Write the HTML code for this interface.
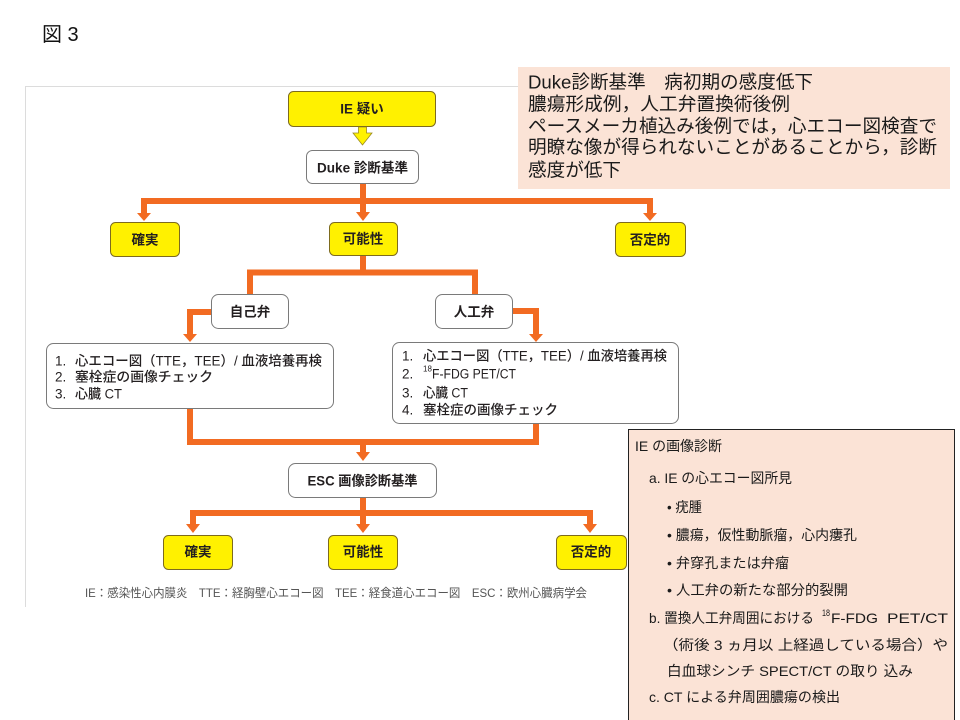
<!DOCTYPE html>
<html>
<head>
<meta charset="utf-8">
<style>
  html,body{margin:0;padding:0;background:#fff;}
  body{width:960px;height:720px;overflow:hidden;}
  svg{display:block;}
  text{font-family:"Liberation Sans","Noto Sans CJK JP",sans-serif;}
  .lbl{font-size:13.5px;font-weight:bold;fill:#231f20;}
  .lst{font-size:13.5px;font-weight:500;fill:#231f20;}
  .pk{font-size:18.6px;fill:#1a1a1a;}
  .rb{font-size:14px;fill:#1a1a1a;}
</style>
</head>
<body>
<svg width="960" height="720" viewBox="0 0 960 720" xmlns="http://www.w3.org/2000/svg">
  <!-- title -->
  <text x="42" y="41" font-size="20" fill="#111">図 3</text>

  <!-- figure frame -->
  <line x1="25" y1="86.5" x2="640" y2="86.5" stroke="#dcdcdc" stroke-width="1"/>
  <line x1="25.5" y1="86" x2="25.5" y2="607" stroke="#dcdcdc" stroke-width="1"/>

  <!-- orange connectors -->
  <g fill="none" stroke="#F26B22" stroke-width="6" stroke-linejoin="miter">
    <line x1="363" y1="184" x2="363" y2="213"/>
    <polyline points="144,214 144,201 650,201 650,214"/>
    <line x1="363" y1="256" x2="363" y2="273"/>
    <polyline points="250,294 250,272.5 475,272.5 475,294"/>
    <polyline points="211,312 190,312 190,335"/>
    <polyline points="513,311 536,311 536,335"/>
    <polyline points="190,409 190,442 536,442 536,424"/>
    <line x1="363" y1="442" x2="363" y2="453"/>
    <line x1="363" y1="498" x2="363" y2="525"/>
    <polyline points="193,525 193,513 590,513 590,525"/>
  </g>
  <g fill="#F26B22">
    <polygon points="137,213 151,213 144,221"/>
    <polygon points="356,212 370,212 363,221"/>
    <polygon points="643,213 657,213 650,221"/>
    <polygon points="183,334 197,334 190,342"/>
    <polygon points="529,334 543,334 536,342"/>
    <polygon points="356,452 370,452 363,461"/>
    <polygon points="186,524 200,524 193,533"/>
    <polygon points="356,524 370,524 363,533"/>
    <polygon points="583,524 597,524 590,533"/>
  </g>

  <!-- yellow hollow arrow -->
  <polygon points="358.5,127 366.5,127 366.5,133 372,133 362.5,145 353,133 358.5,133" fill="#FFF200" stroke="#9a8a20" stroke-width="0.8"/>

  <!-- yellow boxes -->
  <g fill="#FFF100" stroke="#7d6b1e" stroke-width="1">
    <rect x="288.5" y="91.5" width="147" height="35" rx="5"/>
    <rect x="110.5" y="222.5" width="69" height="34" rx="5"/>
    <rect x="329.5" y="222.5" width="68" height="33" rx="5"/>
    <rect x="615.5" y="222.5" width="70" height="34" rx="5"/>
    <rect x="163.5" y="535.5" width="69" height="34" rx="5"/>
    <rect x="328.5" y="535.5" width="69" height="34" rx="5"/>
    <rect x="556.5" y="535.5" width="70" height="34" rx="5"/>
  </g>
  <!-- white boxes -->
  <g fill="#fff" stroke="#7a7a7a" stroke-width="1">
    <rect x="306.5" y="150.5" width="112" height="33" rx="6"/>
    <rect x="211.5" y="294.5" width="77" height="34" rx="7"/>
    <rect x="435.5" y="294.5" width="77" height="34" rx="7"/>
    <rect x="46.5" y="343.5" width="287" height="65" rx="7"/>
    <rect x="392.5" y="342.5" width="286" height="81" rx="7"/>
    <rect x="288.5" y="463.5" width="148" height="34" rx="7"/>
  </g>

  <!-- box labels -->
  <g class="lbl" text-anchor="middle" dominant-baseline="central">
    <text x="362" y="109">IE 疑い</text>
    <text x="362.5" y="168" textLength="91" lengthAdjust="spacingAndGlyphs">Duke 診断基準</text>
    <text x="145" y="240">確実</text>
    <text x="363" y="239">可能性</text>
    <text x="650" y="240">否定的</text>
    <text x="250" y="312">自己弁</text>
    <text x="474" y="312">人工弁</text>
    <text x="362.5" y="481" textLength="110" lengthAdjust="spacingAndGlyphs">ESC 画像診断基準</text>
    <text x="198" y="552">確実</text>
    <text x="363" y="552">可能性</text>
    <text x="591" y="552">否定的</text>
  </g>

  <!-- left list -->
  <g class="lst" dominant-baseline="central">
    <text x="55" y="361">1.</text>
    <text x="75" y="361" textLength="247" lengthAdjust="spacingAndGlyphs">心エコー図（TTE，TEE）/ 血液培養再検</text>
    <text x="55" y="377">2.</text>
    <text x="75" y="377" textLength="138" lengthAdjust="spacingAndGlyphs">塞栓症の画像チェック</text>
    <text x="55" y="394">3.</text>
    <text x="75" y="394" textLength="47" lengthAdjust="spacingAndGlyphs">心臓 CT</text>
  </g>
  <!-- right list -->
  <g class="lst" dominant-baseline="central">
    <text x="402" y="356">1.</text>
    <text x="423" y="356" textLength="244" lengthAdjust="spacingAndGlyphs">心エコー図（TTE，TEE）/ 血液培養再検</text>
    <text x="402" y="374">2.</text>
    <text x="423" y="369" font-size="8">18</text>
    <text x="432" y="374" textLength="84" lengthAdjust="spacingAndGlyphs">F-FDG PET/CT</text>
    <text x="402" y="393">3.</text>
    <text x="423" y="393" textLength="45" lengthAdjust="spacingAndGlyphs">心臓 CT</text>
    <text x="402" y="410">4.</text>
    <text x="423" y="410" textLength="135" lengthAdjust="spacingAndGlyphs">塞栓症の画像チェック</text>
  </g>

  <!-- footer -->
  <text x="85" y="593" font-size="12" fill="#555" dominant-baseline="central" textLength="502" lengthAdjust="spacingAndGlyphs">IE：感染性心内膜炎　TTE：経胸壁心エコー図　TEE：経食道心エコー図　ESC：欧州心臓病学会</text>

  <!-- top peach note -->
  <rect x="518" y="67" width="432" height="122" fill="#FBE3D6"/>
  <g class="pk" dominant-baseline="central">
    <text x="528" y="82" textLength="285" lengthAdjust="spacingAndGlyphs">Duke診断基準　病初期の感度低下</text>
    <text x="528" y="104" textLength="262" lengthAdjust="spacingAndGlyphs">膿瘍形成例，人工弁置換術後例</text>
    <text x="528" y="126" textLength="409" lengthAdjust="spacingAndGlyphs">ペースメーカ植込み後例では，心エコー図検査で</text>
    <text x="528" y="147" textLength="409" lengthAdjust="spacingAndGlyphs">明瞭な像が得られないことがあることから，診断</text>
    <text x="528" y="170" textLength="93" lengthAdjust="spacingAndGlyphs">感度が低下</text>
  </g>

  <!-- bottom-right peach box -->
  <rect x="628.5" y="429.5" width="326" height="300" fill="#FBE3D6" stroke="#222" stroke-width="1"/>
  <g class="rb" dominant-baseline="central">
    <text x="635" y="446" textLength="87" lengthAdjust="spacingAndGlyphs">IE の画像診断</text>
    <text x="649" y="478" textLength="143" lengthAdjust="spacingAndGlyphs">a. IE の心エコー図所見</text>
    <text x="667" y="507" textLength="35" lengthAdjust="spacingAndGlyphs">• 疣腫</text>
    <text x="667" y="535" textLength="190" lengthAdjust="spacingAndGlyphs">• 膿瘍，仮性動脈瘤，心内瘻孔</text>
    <text x="667" y="563" textLength="122" lengthAdjust="spacingAndGlyphs">• 弁穿孔または弁瘤</text>
    <text x="667" y="590" textLength="181" lengthAdjust="spacingAndGlyphs">• 人工弁の新たな部分的裂開</text>
    <text x="649" y="618" textLength="165" lengthAdjust="spacingAndGlyphs">b. 置換人工弁周囲における</text>
    <text x="822" y="613" font-size="9" textLength="8" lengthAdjust="spacingAndGlyphs">18</text>
    <text x="831" y="618" textLength="47" lengthAdjust="spacingAndGlyphs">F-FDG</text>
    <text x="887" y="618" textLength="61" lengthAdjust="spacingAndGlyphs">PET/CT</text>
    <text x="663" y="645" textLength="285" lengthAdjust="spacingAndGlyphs">（術後 3 ヵ月以 上経過している場合）や</text>
    <text x="667" y="671" textLength="246" lengthAdjust="spacingAndGlyphs">白血球シンチ SPECT/CT の取り 込み</text>
    <text x="649" y="697" textLength="191" lengthAdjust="spacingAndGlyphs">c. CT による弁周囲膿瘍の検出</text>
  </g>
</svg>
</body>
</html>
